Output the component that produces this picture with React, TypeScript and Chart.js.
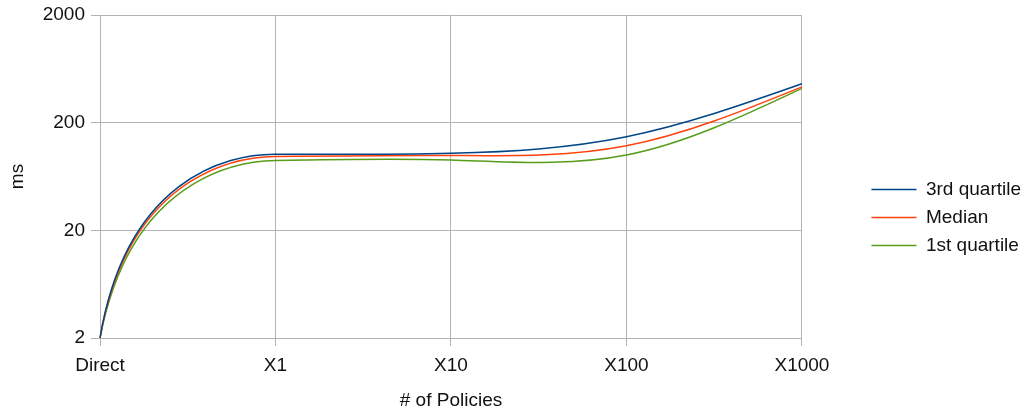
import React, { useEffect, useRef } from 'react';
import { Chart, registerables } from 'chart.js';

Chart.register(...registerables);

// ---- data ----
const categories = ['Direct', 'X1', 'X10', 'X100', 'X1000'];
const thirdQuartile = [2, 102, 104, 148, 459];
const median = [2, 97, 99, 122, 430];
const firstQuartile = [2, 89, 90, 100, 416];
const yTicks = [2, 20, 200, 2000];
const seriesNames = ['3rd quartile', 'Median', '1st quartile'];
const seriesColors = ['#004586', '#ff420e', '#579d1c'];

// ---- style ----
const FONT = 'Liberation Sans, Arial, sans-serif';
const TEXT = '#111111';
const GRID = '#b3b3b3';
const START_TANGENT = 0.45;

type P = { x: number; y: number };

// slopes (dy/dx) of a natural cubic spline at its knots
function naturalSlopes(x: number[], y: number[]): number[] {
  const n = x.length;
  if (n < 2) return [0];
  const h: number[] = [], d: number[] = [];
  for (let i = 0; i < n - 1; i++) { h.push(x[i + 1] - x[i]); d.push((y[i + 1] - y[i]) / h[i]); }
  if (n === 2) return [d[0], d[0]];
  const M = new Array(n).fill(0);
  const a: number[] = [], b: number[] = [], c: number[] = [], r: number[] = [];
  for (let i = 1; i < n - 1; i++) {
    a.push(h[i - 1]); b.push(2 * (h[i - 1] + h[i])); c.push(h[i]); r.push(6 * (d[i] - d[i - 1]));
  }
  const m = b.length;
  for (let i = 1; i < m; i++) {
    const w = a[i] / b[i - 1];
    b[i] -= w * c[i - 1];
    r[i] -= w * r[i - 1];
  }
  const sol = new Array(m).fill(0);
  sol[m - 1] = r[m - 1] / b[m - 1];
  for (let i = m - 2; i >= 0; i--) sol[i] = (r[i] - c[i] * sol[i + 1]) / b[i];
  for (let i = 0; i < m; i++) M[i + 1] = sol[i];
  const s: number[] = [];
  for (let i = 0; i < n - 1; i++) s.push(d[i] - (h[i] * (2 * M[i] + M[i + 1])) / 6);
  s.push(d[n - 2] + (h[n - 2] * (2 * M[n - 1] + M[n - 2])) / 6);
  return s;
}

function bezierAt(P0: P, C1: P, C2: P, P3: P, t: number): P {
  const s = 1 - t;
  return {
    x: s * s * s * P0.x + 3 * t * s * s * C1.x + 3 * t * t * s * C2.x + t * t * t * P3.x,
    y: s * s * s * P0.y + 3 * t * s * s * C1.y + 3 * t * t * s * C2.y + t * t * t * P3.y,
  };
}

// bezier with fixed end tangent directions; lengths chosen to follow the target samples
function fitWithTangents(P0: P, P3: P, T0: P, T1: P, Q: P[]): [P, P] {
  const L = Math.hypot(P3.x - P0.x, P3.y - P0.y);
  const K = 160;
  const err = (a1: number, a2: number) => {
    const C1 = { x: P0.x + a1 * T0.x, y: P0.y + a1 * T0.y };
    const C2 = { x: P3.x - a2 * T1.x, y: P3.y - a2 * T1.y };
    const B: P[] = [];
    for (let k = 0; k <= K; k++) B.push(bezierAt(P0, C1, C2, P3, k / K));
    let e = 0;
    for (const q of Q) {
      let best = Infinity;
      for (const p of B) {
        const dx = p.x - q.x, dy = p.y - q.y;
        const dd = dx * dx + dy * dy;
        if (dd < best) best = dd;
      }
      e += best;
    }
    return e;
  };
  const G = 24;
  let b1 = 0, b2 = 0, be = Infinity;
  for (let i = 0; i <= G; i++) {
    for (let j = 0; j <= G; j++) {
      const a1 = (L * i) / G, a2 = (L * j) / G;
      const e = err(a1, a2);
      if (e < be) { be = e; b1 = a1; b2 = a2; }
    }
  }
  let step = L / G;
  while (step > 0.05) {
    let moved = false;
    for (const [d1, d2] of [[step, 0], [-step, 0], [0, step], [0, -step]]) {
      const a1 = Math.max(0, b1 + d1), a2 = Math.max(0, b2 + d2);
      const e = err(a1, a2);
      if (e < be) { be = e; b1 = a1; b2 = a2; moved = true; }
    }
    if (!moved) step /= 2;
  }
  return [
    { x: P0.x + b1 * T0.x, y: P0.y + b1 * T0.y },
    { x: P3.x - b2 * T1.x, y: P3.y - b2 * T1.y },
  ];
}

const norm = (p: P): P => { const l = Math.hypot(p.x, p.y) || 1; return { x: p.x / l, y: p.y / l }; };

// Smooth curve: natural cubic spline on the axis (log) scale from the 2nd point on;
// the rise from the first point follows a cardinal curve in value space.
const smoothCurvePlugin = {
  id: 'smoothCurve',
  beforeDatasetDraw(chart: any, args: any) {
    const meta = args.meta;
    const line = meta.dataset;
    if (!line || !meta.data || meta.data.length < 3) return;
    line.updateControlPoints(chart.chartArea, meta.iScale.axis);
    const pts = meta.data;
    const vals = chart.data.datasets[args.index].data as number[];
    const yScale = meta.vScale;
    const n = vals.length;
    const xs = pts.map((p: any) => p.x);
    const ys = pts.map((p: any) => p.y);
    const sub = naturalSlopes(xs.slice(1), ys.slice(1));
    const slopes = [0, ...sub];
    for (let i = 1; i < n - 1; i++) {
      const h = xs[i + 1] - xs[i];
      pts[i].cp2x = xs[i] + h / 3; pts[i].cp2y = ys[i] + (slopes[i] * h) / 3;
      pts[i + 1].cp1x = xs[i + 1] - h / 3; pts[i + 1].cp1y = ys[i + 1] - (slopes[i + 1] * h) / 3;
    }
    // first segment
    const v0 = vals[0], v1 = vals[1];
    const h0 = xs[1] - xs[0];
    const eps = 1e-4;
    const dpydv = (yScale.getPixelForValue(v1 * (1 + eps)) - yScale.getPixelForValue(v1)) / (v1 * eps);
    const m1v = (slopes[1] * h0) / dpydv;
    const m0v = START_TANGENT * (v1 - v0);
    const target = (t: number): P => {
      const t2 = t * t, t3 = t2 * t;
      const H = (2 * t3 - 3 * t2 + 1) * v0 + (t3 - 2 * t2 + t) * m0v + (-2 * t3 + 3 * t2) * v1 + (t3 - t2) * m1v;
      return { x: xs[0] + h0 * t, y: yScale.getPixelForValue(Math.max(1e-6, H)) };
    };
    const Q: P[] = [];
    const NQ = 40;
    for (let j = 0; j <= NQ; j++) Q.push(target(j / NQ));
    const P0 = { x: xs[0], y: ys[0] }, P3 = { x: xs[1], y: ys[1] };
    const t0 = target(1e-4);
    const T0 = norm({ x: t0.x - P0.x, y: t0.y - P0.y });
    const T1 = norm({ x: 1, y: slopes[1] });
    const [C1, C2] = fitWithTangents(P0, P3, T0, T1, Q);
    pts[0].cp2x = C1.x; pts[0].cp2y = C1.y;
    pts[1].cp1x = C2.x; pts[1].cp1y = C2.y;
  },
};

export default function App() {
  const ref = useRef<HTMLCanvasElement | null>(null);
  useEffect(() => {
    if (!ref.current) return;
    const font = { family: FONT, size: 19 };
    const seriesData = [thirdQuartile, median, firstQuartile];
    const chart = new Chart(ref.current, {
      type: 'line',
      data: {
        labels: categories,
        datasets: seriesData.map((d, i) => ({
          label: seriesNames[i],
          data: d,
          borderColor: seriesColors[i],
          backgroundColor: seriesColors[i],
          borderWidth: 1.5,
          pointRadius: 0,
          pointHoverRadius: 0,
          tension: 0.4,
          fill: false,
          xAxisID: 'x',
          yAxisID: 'y',
        })),
      },
      options: {
        responsive: false,
        animation: false,
        devicePixelRatio: 1,
        events: [],
        layout: { padding: { top: 15, right: -3, bottom: 0, left: 0 } },
        plugins: {
          legend: {
            position: 'right',
            align: 'center',
            title: { display: true, text: ' ', font: { size: 5 }, padding: { top: 4, bottom: 0 } },
            labels: {
              usePointStyle: true,
              pointStyle: 'line',
              pointStyleWidth: 45,
              padding: 9,
              color: TEXT,
              font,
            },
          },
          tooltip: { enabled: false },
        },
        scales: {
          x: {
            type: 'category',
            offset: false,
            grid: { color: GRID, tickLength: 8 },
            border: { color: GRID },
            ticks: { color: TEXT, font, padding: 8, maxRotation: 0, autoSkip: false },
            title: {
              display: true,
              text: '# of Policies',
              color: TEXT,
              font: { family: FONT, size: 19, lineHeight: 1 },
              padding: { top: 0, bottom: 0 },
            },
            afterFit: (s: any) => { s.height = 72; },
          },
          y: {
            type: 'logarithmic',
            min: yTicks[0],
            max: yTicks[yTicks.length - 1],
            afterBuildTicks: (s: any) => { s.ticks = yTicks.map((v) => ({ value: v })); },
            grid: { color: GRID, tickLength: 9 },
            border: { color: GRID },
            ticks: { color: TEXT, font: { family: FONT, size: 19, lineHeight: 1 }, padding: 6, callback: (v: any) => String(v) },
            title: { display: true, text: 'ms', color: TEXT, font, padding: { top: 6, bottom: 0 } },
            afterFit: (s: any) => { s.width = 100; s.paddingTop = 0; },
          },
          pad: {
            type: 'linear',
            position: 'right',
            display: true,
            grid: { display: false },
            border: { display: false },
            ticks: { display: false },
            afterFit: (s: any) => { s.width = 60.5; },
          },
        },
      },
      plugins: [smoothCurvePlugin],
    } as any);
    return () => chart.destroy();
  }, []);
  return (
    <div style={{ position: 'fixed', left: 0, top: 0, width: 1028, height: 410, background: '#fff' }}>
      <canvas ref={ref} width={1028} height={410} style={{ display: 'block', width: 1028, height: 410 }} />
    </div>
  );
}
